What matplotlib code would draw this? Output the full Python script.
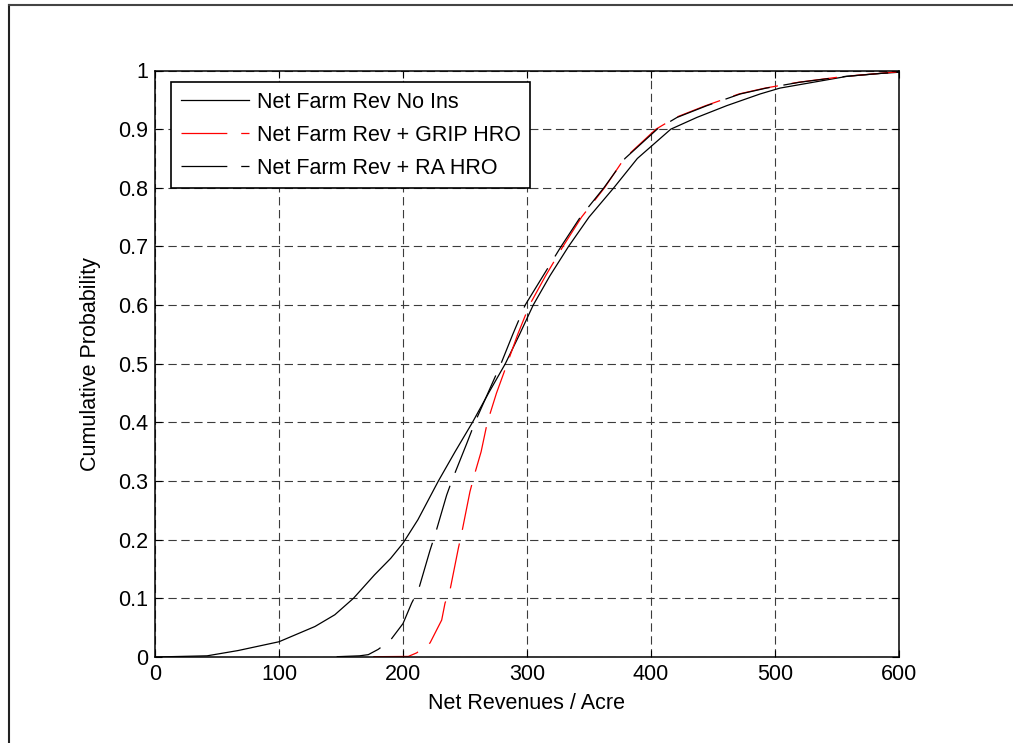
import matplotlib
matplotlib.use("Agg")
import matplotlib.pyplot as plt
from matplotlib.lines import Line2D

plt.rcParams['font.family'] = ['Liberation Sans', 'DejaVu Sans']
plt.rcParams['lines.scale_dashes'] = False

# ---- data ----
series_labels = ["Net Farm Rev No Ins", "Net Farm Rev + GRIP HRO", "Net Farm Rev + RA HRO"]

noins_x = [0, 42, 67, 100, 129, 145, 160, 177, 190, 200, 212, 228.5, 242, 256, 269, 282.5,
           294, 305, 318.5, 333.5, 350, 370, 389, 416, 437, 461, 488, 504, 531, 558, 585, 600]
noins_p = [0.0, 0.002, 0.011, 0.026, 0.052, 0.072, 0.100, 0.140, 0.168, 0.194, 0.234, 0.300,
           0.350, 0.400, 0.450, 0.500, 0.550, 0.600, 0.650, 0.700, 0.750, 0.800, 0.850, 0.900,
           0.920, 0.940, 0.960, 0.970, 0.980, 0.990, 0.995, 0.997]

grip_x = [176, 204.3, 211, 221.8, 231.2, 233.9, 237.9, 244.6, 247.3, 254, 257.5, 263, 268,
          275.4, 284, 292.5, 302, 315, 329, 344, 362.5, 378.5, 404, 420, 444, 471, 492, 519,
          556, 584, 600]
grip_p = [0.0005, 0.001, 0.007, 0.024, 0.063, 0.092, 0.114, 0.185, 0.211, 0.282, 0.310, 0.350,
          0.400, 0.450, 0.500, 0.550, 0.600, 0.650, 0.700, 0.750, 0.800, 0.850, 0.900, 0.920,
          0.940, 0.960, 0.970, 0.980, 0.990, 0.995, 0.998]

ra_x = [146.5, 165, 172, 180, 190, 200, 207, 212.4, 221.8, 225.8, 235.2, 239.3, 251.4, 258,
        268.5, 279, 288.5, 298.5, 313, 327.5, 343, 362, 379, 405, 421, 445, 472, 493, 520,
        557, 585, 600]
ra_p = [0.0005, 0.002, 0.004, 0.013, 0.029, 0.057, 0.092, 0.114, 0.182, 0.208, 0.276, 0.300,
        0.364, 0.400, 0.450, 0.500, 0.550, 0.600, 0.650, 0.700, 0.750, 0.800, 0.850, 0.900,
        0.920, 0.940, 0.960, 0.970, 0.980, 0.990, 0.995, 0.997]

x_ticks = [0, 100, 200, 300, 400, 500, 600]
y_ticks = [0, 0.1, 0.2, 0.3, 0.4, 0.5, 0.6, 0.7, 0.8, 0.9, 1.0]
y_tick_labels = ["0", "0.1", "0.2", "0.3", "0.4", "0.5", "0.6", "0.7", "0.8", "0.9", "1"]

FS = 15.5

# ---- figure ----
W, H = 1013, 743
fig = plt.figure(figsize=(W / 100, H / 100), dpi=100)
ax = fig.add_axes([155 / W, (H - 657) / H, 744 / W, 586.5 / H])

dash = (0, (33, 10))
ax.plot(noins_x, noins_p, color='black', lw=0.9, label=series_labels[0])
ax.plot(grip_x, grip_p, color='red', lw=0.9, linestyle=dash, label=series_labels[1])
ax.plot(ra_x, ra_p, color='black', lw=0.9, linestyle=dash, label=series_labels[2])

ax.set_xlim(0, 600)
ax.set_ylim(0, 1)
ax.set_xticks(x_ticks)
ax.set_xticklabels([str(v) for v in x_ticks])
ax.set_yticks(y_ticks)
ax.set_yticklabels(y_tick_labels)

ax.grid(True, color='#3c3c3c', lw=0.8, linestyle=(0, (6, 3.3)))
ax.set_axisbelow(True)

ax.tick_params(direction='in', length=5, width=0.8, top=True, right=True,
               labelsize=FS, pad=5, colors='black')
for s in ax.spines.values():
    s.set_linewidth(1.1)
    s.set_color('black')

ax.set_xlabel("Net Revenues / Acre", fontsize=FS)
ax.set_ylabel("Cumulative Probability", fontsize=FS)
ax.xaxis.set_label_coords(0.5, -0.062)
ax.yaxis.set_label_coords(-0.072, 0.5)

leg = ax.legend(loc='upper left', bbox_to_anchor=((171 - 155) / 744, (657 - 82) / 586.5),
                borderaxespad=0, fontsize=FS, frameon=True, fancybox=False,
                edgecolor='black', framealpha=1, borderpad=0.46, handlelength=3.15,
                handletextpad=0.37, labelspacing=0.55)
leg.get_frame().set_linewidth(1.2)

# outer figure border (left and top only visible)
fig.add_artist(Line2D([9 / W, 9 / W], [0, 1 - 5 / H], transform=fig.transFigure,
                      color='#222222', lw=1.5))
fig.add_artist(Line2D([9 / W, 1], [1 - 5 / H, 1 - 5 / H], transform=fig.transFigure,
                      color='#444444', lw=1.5))

fig.savefig("out.png", dpi=100)
